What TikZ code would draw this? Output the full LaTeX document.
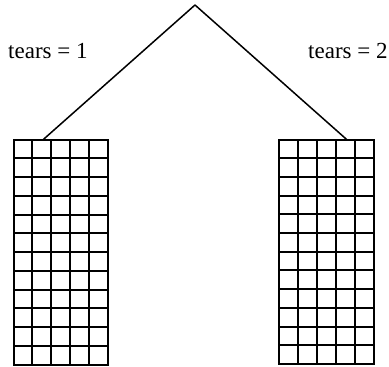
\documentclass[tikz,border=0pt]{standalone}
\usepackage{fontspec}
\setmainfont{Liberation Serif}
\newfontfamily\lblfont{Liberation Serif}
\begin{document}
\begin{tikzpicture}[x=1pt,y=-1pt,
  gridline/.style={line width=2pt, line cap=rect},
  branch/.style={line width=1.5pt},
  lbl/.style={inner sep=0pt, anchor=base west, font=\lblfont\fontsize{23}{27}\selectfont}]
\useasboundingbox (0,0) rectangle (389,367);
% root and branches
\coordinate (root) at (195,5);
\coordinate (lt) at (43.3,139.5);
\coordinate (rt) at (346.7,139.5);
\draw[branch] (root) -- (lt);
\draw[branch] (root) -- (rt);
\node[lbl] (l1) at (8,58.3) {tears = 1};
\node[lbl] (l2) at (308,58.3) {tears = 2};
% left grid
\foreach \i in {0,...,5} {
  \draw[gridline] ({13.5+\i*18.8},139.5) -- ({13.5+\i*18.8},364.5);
}
\foreach \j in {0,...,12} {
  \draw[gridline] (13.5,{139.5+\j*18.75}) -- (107.5,{139.5+\j*18.75});
}
% right grid
\foreach \i in {0,...,5} {
  \draw[gridline] ({278.5+\i*19.1},139.5) -- ({278.5+\i*19.1},364);
}
\foreach \j in {0,...,12} {
  \draw[gridline] (278.5,{139.5+\j*18.7083}) -- (374,{139.5+\j*18.7083});
}
\end{tikzpicture}
\end{document}
